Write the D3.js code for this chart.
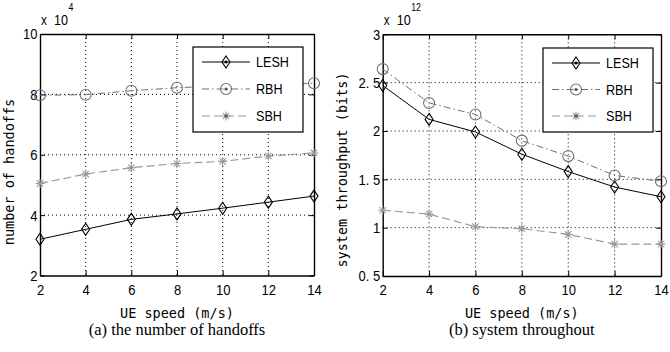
<!DOCTYPE html>
<html>
<head>
<meta charset="utf-8">
<script src="https://cdn.jsdelivr.net/npm/d3@7"></script>
<style>
  body { margin: 0; background: #fff; }
  svg { display: block; }
</style>
</head>
<body>
<svg id="fig" width="670" height="352"></svg>
<script>
// data
const speeds = [2, 4, 6, 8, 10, 12, 14];
const seriesNames = ['LESH', 'RBH', 'SBH'];

// (a) number of handoffs, x 10^4
const handoffLESH = [3.20, 3.53, 3.86, 4.04, 4.23, 4.43, 4.63];
const handoffRBH  = [7.97, 7.99, 8.12, 8.22, 8.28, 8.33, 8.37];
const handoffSBH  = [5.05, 5.36, 5.57, 5.71, 5.78, 5.96, 6.06];
const handoffTicks = [2, 4, 6, 8, 10];

// (b) system throughput (bits), x 10^12
const thrLESH = [2.47, 2.12, 1.99, 1.76, 1.58, 1.42, 1.32];
const thrRBH  = [2.64, 2.29, 2.17, 1.90, 1.74, 1.54, 1.48];
const thrSBH  = [1.18, 1.14, 1.01, 0.99, 0.93, 0.83, 0.83];
const thrTicks = [0.5, 1, 1.5, 2, 2.5, 3];

const svg = d3.select('#fig');
const tickFont = '"Liberation Sans", Arial, sans-serif';
const monoFont = '"DejaVu Sans Mono", "Liberation Mono", monospace';
const serifFont = '"Liberation Serif", "Times New Roman", serif';
const narrow = 'scale(0.84,1)'; // matlab's tick font is tall and narrow

// marker shapes (MATLAB style)
const diamond = { draw(ctx, r) { ctx.moveTo(0, -r); ctx.lineTo(r * 0.67, 0); ctx.lineTo(0, r); ctx.lineTo(-r * 0.67, 0); ctx.closePath(); } };
const ring = { draw(ctx, r) { ctx.moveTo(r, 0); ctx.arc(0, 0, r, 0, 2 * Math.PI); } };
const star = { draw(ctx, r) {
  const d = r * 0.707;
  ctx.moveTo(-r, 0); ctx.lineTo(r, 0);
  ctx.moveTo(0, -r); ctx.lineTo(0, r);
  ctx.moveTo(-d, -d); ctx.lineTo(d, d);
  ctx.moveTo(-d, d); ctx.lineTo(d, -d);
} };

const styles = {
  LESH: { color: '#000', dash: null, shape: diamond, size: 6, width: 1 },
  RBH:  { color: '#707070', dash: '7,3,1.5,3', shape: ring, size: 5.5, width: 1 },
  SBH:  { color: '#999', dash: '8,4', shape: star, size: 4.5, width: 1.2 }
};

const panels = [
  {
    left: 40, right: 314, top: 34, bottom: 275.5,
    yTicks: handoffTicks, fmt: d => d,
    series: { LESH: handoffLESH, RBH: handoffRBH, SBH: handoffSBH },
    exp: '4', ylabel: 'number of handoffs', ylabelX: 14, ylabelY: 172,
    xlabel: 'UE speed  (m/s)', caption: '(a) the number of handoffs',
    legend: { x0: 193, x1: 303, y0: 47, y1: 132 }
  },
  {
    left: 382.7, right: 661, top: 34.3, bottom: 276,
    yTicks: thrTicks, fmt: d => (Number.isInteger(d) ? String(d) : String(d).replace('.', '. ')),
    series: { LESH: thrLESH, RBH: thrRBH, SBH: thrSBH },
    exp: '12', ylabelX: 347, ylabelY: 170, ylabel: 'system throughput (bits)',
    xlabel: 'UE speed (m/s)', caption: '(b) system throughout',
    legend: { x0: 543, x1: 653, y0: 48, y1: 132 }
  }
];

panels.forEach(p => {
  const x = d3.scaleLinear().domain([2, 14]).range([p.left, p.right]);
  const y = d3.scaleLinear().domain(d3.extent(p.yTicks)).range([p.bottom, p.top]);
  const g = svg.append('g');

  // dotted grid
  const grid = g.append('g').attr('stroke', '#000').attr('stroke-width', 1).attr('stroke-dasharray', '1,3');
  grid.selectAll('.gx').data(speeds.slice(1, -1)).join('line')
    .attr('x1', d => x(d)).attr('x2', d => x(d)).attr('y1', p.top).attr('y2', p.bottom);
  grid.selectAll('.gy').data(p.yTicks.slice(1, -1)).join('line')
    .attr('y1', d => y(d)).attr('y2', d => y(d)).attr('x1', p.left).attr('x2', p.right);

  // box with inward ticks on all four sides
  const axes = [
    g.append('g').attr('transform', `translate(0,${p.bottom})`)
      .call(d3.axisBottom(x).tickValues(speeds).tickSizeInner(-5).tickSizeOuter(0).tickPadding(8.5)),
    g.append('g').attr('transform', `translate(0,${p.top})`)
      .call(d3.axisTop(x).tickValues(speeds).tickSizeInner(-5).tickSizeOuter(0).tickFormat('')),
    g.append('g').attr('transform', `translate(${p.left},0)`)
      .call(d3.axisLeft(y).tickValues(p.yTicks).tickSizeInner(-5).tickSizeOuter(0).tickPadding(3).tickFormat(p.fmt)),
    g.append('g').attr('transform', `translate(${p.right},0)`)
      .call(d3.axisRight(y).tickValues(p.yTicks).tickSizeInner(-5).tickSizeOuter(0).tickFormat(''))
  ];
  axes.forEach(a => {
    a.select('.domain').attr('stroke', '#000').attr('stroke-width', 1.4);
    a.selectAll('.tick line').attr('stroke', '#000').attr('stroke-width', 1);
    a.selectAll('.tick text').attr('fill', '#000').attr('transform', narrow)
      .style('font-family', tickFont).style('font-size', '15.5px');
  });

  // series lines + markers
  const line = d3.line().x((d, i) => x(speeds[i])).y(d => y(d));
  seriesNames.forEach(name => {
    const s = styles[name];
    const vals = p.series[name];
    g.append('path').datum(vals)
      .attr('d', line).attr('fill', 'none')
      .attr('stroke', s.color).attr('stroke-width', s.width)
      .attr('stroke-dasharray', s.dash);
    g.selectAll(null).data(vals).join('path')
      .attr('transform', (d, i) => `translate(${x(speeds[i])},${y(d)})`)
      .attr('d', d3.symbol(s.shape, s.size))
      .attr('fill', 'none').attr('stroke', s.color).attr('stroke-width', 1.1);
  });

  // legend
  const L = p.legend;
  const lg = g.append('g');
  lg.append('rect').attr('x', L.x0).attr('y', L.y0).attr('width', L.x1 - L.x0).attr('height', L.y1 - L.y0)
    .attr('fill', '#fff').attr('stroke', '#000').attr('stroke-width', 1.2);
  const rowY = d3.scalePoint().domain(seriesNames).range([L.y0 + 15, L.y1 - 16]);
  seriesNames.forEach(name => {
    const s = styles[name];
    const yy = rowY(name);
    const lx0 = L.x0 + 9, lx1 = L.x0 + 57, mx = (lx0 + lx1) / 2;
    lg.append('line').attr('x1', lx0).attr('x2', lx1).attr('y1', yy).attr('y2', yy)
      .attr('stroke', s.color).attr('stroke-width', s.width).attr('stroke-dasharray', s.dash);
    lg.append('path').attr('transform', `translate(${mx},${yy})`)
      .attr('d', d3.symbol(s.shape, s.size)).attr('fill', 'none').attr('stroke', s.color).attr('stroke-width', 1.1);
    lg.append('circle').attr('cx', mx).attr('cy', yy).attr('r', 1.6).attr('fill', name === 'LESH' ? '#000' : '#555');
    lg.append('text').attr('transform', `translate(${L.x0 + 63},${yy + 5}) scale(0.9,1)`)
      .style('font-family', tickFont).style('font-size', '14px').text(name);
  });

  // exponent label
  g.append('text').attr('transform', `translate(${p.left + 1},25) ${narrow}`)
    .style('font-family', tickFont).style('font-size', '14px').text('x');
  g.append('text').attr('transform', `translate(${p.left + 14},25) ${narrow}`)
    .style('font-family', tickFont).style('font-size', '15px').text('10');
  g.append('text').attr('transform', `translate(${p.left + 28.5},11) ${narrow}`)
    .style('font-family', tickFont).style('font-size', '10.5px').text(p.exp);

  // axis titles and caption
  const cx = (p.left + p.right) / 2;
  g.append('text').attr('transform', `translate(${p.ylabelX},${p.ylabelY}) rotate(-90)`)
    .attr('text-anchor', 'middle').style('font-family', monoFont).style('font-size', '13.5px').text(p.ylabel);
  g.append('text').attr('x', cx).attr('y', 318).attr('text-anchor', 'middle')
    .style('font-family', monoFont).style('font-size', '13.5px').text(p.xlabel);
  g.append('text').attr('x', cx).attr('y', 335).attr('text-anchor', 'middle')
    .style('font-family', serifFont).style('font-size', '16.5px').text(p.caption);
});
</script>
</body>
</html>
